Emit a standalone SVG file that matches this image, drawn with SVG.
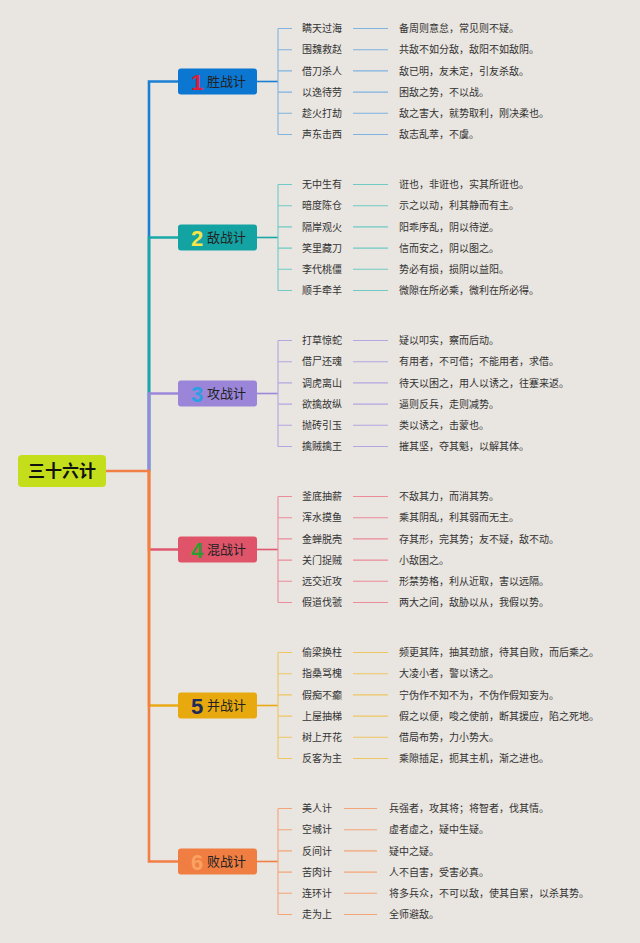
<svg xmlns="http://www.w3.org/2000/svg" width="640" height="943" viewBox="0 0 640 943">
<style>
text{font-family:"Liberation Sans","Noto Sans CJK SC",sans-serif}
.leaf,.desc{font-size:10px;fill:#333}
.lab{font-size:13px;fill:#222}
.num{font-size:22px;font-weight:bold;text-anchor:middle}
.root{font-size:17px;font-weight:bold;fill:#111;text-anchor:middle}
.trunk{fill:none;stroke-width:2.6}
.br{fill:none;stroke-width:1.6}
.tk{fill:none;stroke-width:1.1}
.c1{stroke:#1a7fd4}.c2{stroke:#19a8a8}.c3{stroke:#9c88da}.c4{stroke:#e05870}.c5{stroke:#eaa916}.c6{stroke:#f27f45}
.l1{stroke:#7fb3e0}.l2{stroke:#6fcac5}.l3{stroke:#b3a7e2}.l4{stroke:#ec8b99}.l5{stroke:#edc563}.l6{stroke:#f4a577}
</style>
<rect width="640" height="943" fill="#e9e5e0"/>
<g id="connectors">
<path class="trunk c1" d="M149 471V81.5H178"/>
<path class="trunk c2" d="M149 471V237.5H178"/>
<path class="trunk c3" d="M149 471V393.5H178"/>
<path class="trunk c4" d="M149 471V549.5H178"/>
<path class="trunk c5" d="M149 471V705.5H178"/>
<path class="trunk c6" d="M106 471H149V861.5H178"/>
<g transform="translate(0,81.5)">
<path class="br c1" d="M257 0H278"/>
<path class="tk l1" d="M278 -53V53M278 -53H292M278 -31.8H292M278 -10.6H292M278 10.6H292M278 31.8H292M278 53H292"/>
<path class="tk l1" d="M353 -53H388M353 -31.8H388M353 -10.6H388M353 10.6H388M353 31.8H388M353 53H388"/>
</g>
<g transform="translate(0,237.5)">
<path class="br c2" d="M257 0H278"/>
<path class="tk l2" d="M278 -53V53M278 -53H292M278 -31.8H292M278 -10.6H292M278 10.6H292M278 31.8H292M278 53H292"/>
<path class="tk l2" d="M353 -53H388M353 -31.8H388M353 -10.6H388M353 10.6H388M353 31.8H388M353 53H388"/>
</g>
<g transform="translate(0,393.5)">
<path class="br c3" d="M257 0H278"/>
<path class="tk l3" d="M278 -53V53M278 -53H292M278 -31.8H292M278 -10.6H292M278 10.6H292M278 31.8H292M278 53H292"/>
<path class="tk l3" d="M353 -53H388M353 -31.8H388M353 -10.6H388M353 10.6H388M353 31.8H388M353 53H388"/>
</g>
<g transform="translate(0,549.5)">
<path class="br c4" d="M257 0H278"/>
<path class="tk l4" d="M278 -53V53M278 -53H292M278 -31.8H292M278 -10.6H292M278 10.6H292M278 31.8H292M278 53H292"/>
<path class="tk l4" d="M353 -53H388M353 -31.8H388M353 -10.6H388M353 10.6H388M353 31.8H388M353 53H388"/>
</g>
<g transform="translate(0,705.5)">
<path class="br c5" d="M257 0H278"/>
<path class="tk l5" d="M278 -53V53M278 -53H292M278 -31.8H292M278 -10.6H292M278 10.6H292M278 31.8H292M278 53H292"/>
<path class="tk l5" d="M353 -53H388M353 -31.8H388M353 -10.6H388M353 10.6H388M353 31.8H388M353 53H388"/>
</g>
<g transform="translate(0,861.5)">
<path class="br c6" d="M257 0H278"/>
<path class="tk l6" d="M278 -53V53M278 -53H292M278 -31.8H292M278 -10.6H292M278 10.6H292M278 31.8H292M278 53H292"/>
<path class="tk l6" d="M344 -53H377M344 -31.8H377M344 -10.6H377M344 10.6H377M344 31.8H377M344 53H377"/>
</g>
</g>
<g id="root">
<rect x="18" y="455" width="88" height="32" rx="4" fill="#c4de1c"/>
<text class="root" x="62" y="477">三十六计</text>
</g>
<g id="cat1" transform="translate(0,81.5)">
<rect x="178" y="-13" width="79" height="26" rx="3" fill="#0b77d0"/>
<text class="num" x="197" y="8" fill="#e01e3c">1</text>
<text class="lab" x="207" y="4.6">胜战计</text>
</g>
<g id="cat2" transform="translate(0,237.5)">
<rect x="178" y="-13" width="79" height="26" rx="3" fill="#14a3a3"/>
<text class="num" x="197" y="8" fill="#f3e54a">2</text>
<text class="lab" x="207" y="4.6">敌战计</text>
</g>
<g id="cat3" transform="translate(0,393.5)">
<rect x="178" y="-13" width="79" height="26" rx="3" fill="#9a85d8"/>
<text class="num" x="197" y="8" fill="#2b9fe3">3</text>
<text class="lab" x="207" y="4.6">攻战计</text>
</g>
<g id="cat4" transform="translate(0,549.5)">
<rect x="178" y="-13" width="79" height="26" rx="3" fill="#e0546a"/>
<text class="num" x="197" y="8" fill="#2a9f2f">4</text>
<text class="lab" x="207" y="4.6">混战计</text>
</g>
<g id="cat5" transform="translate(0,705.5)">
<rect x="178" y="-13" width="79" height="26" rx="3" fill="#e8a90e"/>
<text class="num" x="197" y="8" fill="#1e2a5c">5</text>
<text class="lab" x="207" y="4.6">并战计</text>
</g>
<g id="cat6" transform="translate(0,861.5)">
<rect x="178" y="-13" width="79" height="26" rx="3" fill="#f07e42"/>
<text class="num" x="197" y="8" fill="#f9a262">6</text>
<text class="lab" x="207" y="4.6">败战计</text>
</g>
<g id="leaves1" transform="translate(0,85.1)">
<g id="s1-1"><text class="leaf" x="302" y="-53">瞒天过海</text></g><g id="d1-1"><text class="desc" x="399" y="-53">备周则意怠，常见则不疑。</text></g>
<g id="s1-2"><text class="leaf" x="302" y="-31.8">围魏救赵</text></g><g id="d1-2"><text class="desc" x="399" y="-31.8">共敌不如分敌，敌阳不如敌阴。</text></g>
<g id="s1-3"><text class="leaf" x="302" y="-10.6">借刀杀人</text></g><g id="d1-3"><text class="desc" x="399" y="-10.6">敌已明，友未定，引友杀敌。</text></g>
<g id="s1-4"><text class="leaf" x="302" y="10.6">以逸待劳</text></g><g id="d1-4"><text class="desc" x="399" y="10.6">困敌之势，不以战。</text></g>
<g id="s1-5"><text class="leaf" x="302" y="31.8">趁火打劫</text></g><g id="d1-5"><text class="desc" x="399" y="31.8">敌之害大，就势取利，刚决柔也。</text></g>
<g id="s1-6"><text class="leaf" x="302" y="53">声东击西</text></g><g id="d1-6"><text class="desc" x="399" y="53">敌志乱萃，不虞。</text></g>
</g>
<g id="leaves2" transform="translate(0,241.1)">
<g id="s2-1"><text class="leaf" x="302" y="-53">无中生有</text></g><g id="d2-1"><text class="desc" x="399" y="-53">诳也，非诳也，实其所诳也。</text></g>
<g id="s2-2"><text class="leaf" x="302" y="-31.8">暗度陈仓</text></g><g id="d2-2"><text class="desc" x="399" y="-31.8">示之以动，利其静而有主。</text></g>
<g id="s2-3"><text class="leaf" x="302" y="-10.6">隔岸观火</text></g><g id="d2-3"><text class="desc" x="399" y="-10.6">阳乖序乱，阴以待逆。</text></g>
<g id="s2-4"><text class="leaf" x="302" y="10.6">笑里藏刀</text></g><g id="d2-4"><text class="desc" x="399" y="10.6">信而安之，阴以图之。</text></g>
<g id="s2-5"><text class="leaf" x="302" y="31.8">李代桃僵</text></g><g id="d2-5"><text class="desc" x="399" y="31.8">势必有损，损阴以益阳。</text></g>
<g id="s2-6"><text class="leaf" x="302" y="53">顺手牵羊</text></g><g id="d2-6"><text class="desc" x="399" y="53">微隙在所必乘，微利在所必得。</text></g>
</g>
<g id="leaves3" transform="translate(0,397.1)">
<g id="s3-1"><text class="leaf" x="302" y="-53">打草惊蛇</text></g><g id="d3-1"><text class="desc" x="399" y="-53">疑以叩实，察而后动。</text></g>
<g id="s3-2"><text class="leaf" x="302" y="-31.8">借尸还魂</text></g><g id="d3-2"><text class="desc" x="399" y="-31.8">有用者，不可借；不能用者，求借。</text></g>
<g id="s3-3"><text class="leaf" x="302" y="-10.6">调虎离山</text></g><g id="d3-3"><text class="desc" x="399" y="-10.6">待天以困之，用人以诱之，往蹇来返。</text></g>
<g id="s3-4"><text class="leaf" x="302" y="10.6">欲擒故纵</text></g><g id="d3-4"><text class="desc" x="399" y="10.6">逼则反兵，走则减势。</text></g>
<g id="s3-5"><text class="leaf" x="302" y="31.8">抛砖引玉</text></g><g id="d3-5"><text class="desc" x="399" y="31.8">类以诱之，击蒙也。</text></g>
<g id="s3-6"><text class="leaf" x="302" y="53">擒贼擒王</text></g><g id="d3-6"><text class="desc" x="399" y="53">摧其坚，夺其魁，以解其体。</text></g>
</g>
<g id="leaves4" transform="translate(0,553.1)">
<g id="s4-1"><text class="leaf" x="302" y="-53">釜底抽薪</text></g><g id="d4-1"><text class="desc" x="399" y="-53">不敌其力，而消其势。</text></g>
<g id="s4-2"><text class="leaf" x="302" y="-31.8">浑水摸鱼</text></g><g id="d4-2"><text class="desc" x="399" y="-31.8">乘其阴乱，利其弱而无主。</text></g>
<g id="s4-3"><text class="leaf" x="302" y="-10.6">金蝉脱壳</text></g><g id="d4-3"><text class="desc" x="399" y="-10.6">存其形，完其势；友不疑，敌不动。</text></g>
<g id="s4-4"><text class="leaf" x="302" y="10.6">关门捉贼</text></g><g id="d4-4"><text class="desc" x="399" y="10.6">小敌困之。</text></g>
<g id="s4-5"><text class="leaf" x="302" y="31.8">远交近攻</text></g><g id="d4-5"><text class="desc" x="399" y="31.8">形禁势格，利从近取，害以远隔。</text></g>
<g id="s4-6"><text class="leaf" x="302" y="53">假道伐虢</text></g><g id="d4-6"><text class="desc" x="399" y="53">两大之间，敌胁以从，我假以势。</text></g>
</g>
<g id="leaves5" transform="translate(0,709.1)">
<g id="s5-1"><text class="leaf" x="302" y="-53">偷梁换柱</text></g><g id="d5-1"><text class="desc" x="399" y="-53">频更其阵，抽其劲旅，待其自败，而后乘之。</text></g>
<g id="s5-2"><text class="leaf" x="302" y="-31.8">指桑骂槐</text></g><g id="d5-2"><text class="desc" x="399" y="-31.8">大凌小者，警以诱之。</text></g>
<g id="s5-3"><text class="leaf" x="302" y="-10.6">假痴不癫</text></g><g id="d5-3"><text class="desc" x="399" y="-10.6">宁伪作不知不为，不伪作假知妄为。</text></g>
<g id="s5-4"><text class="leaf" x="302" y="10.6">上屋抽梯</text></g><g id="d5-4"><text class="desc" x="399" y="10.6">假之以便，唆之使前，断其援应，陷之死地。</text></g>
<g id="s5-5"><text class="leaf" x="302" y="31.8">树上开花</text></g><g id="d5-5"><text class="desc" x="399" y="31.8">借局布势，力小势大。</text></g>
<g id="s5-6"><text class="leaf" x="302" y="53">反客为主</text></g><g id="d5-6"><text class="desc" x="399" y="53">乘隙插足，扼其主机，渐之进也。</text></g>
</g>
<g id="leaves6" transform="translate(0,865.1)">
<g id="s6-1"><text class="leaf" x="302" y="-53">美人计</text></g><g id="d6-1"><text class="desc" x="389" y="-53">兵强者，攻其将；将智者，伐其情。</text></g>
<g id="s6-2"><text class="leaf" x="302" y="-31.8">空城计</text></g><g id="d6-2"><text class="desc" x="389" y="-31.8">虚者虚之，疑中生疑。</text></g>
<g id="s6-3"><text class="leaf" x="302" y="-10.6">反间计</text></g><g id="d6-3"><text class="desc" x="389" y="-10.6">疑中之疑。</text></g>
<g id="s6-4"><text class="leaf" x="302" y="10.6">苦肉计</text></g><g id="d6-4"><text class="desc" x="389" y="10.6">人不自害，受害必真。</text></g>
<g id="s6-5"><text class="leaf" x="302" y="31.8">连环计</text></g><g id="d6-5"><text class="desc" x="389" y="31.8">将多兵众，不可以敌，使其自累，以杀其势。</text></g>
<g id="s6-6"><text class="leaf" x="302" y="53">走为上</text></g><g id="d6-6"><text class="desc" x="389" y="53">全师避敌。</text></g>
</g>
</svg>
